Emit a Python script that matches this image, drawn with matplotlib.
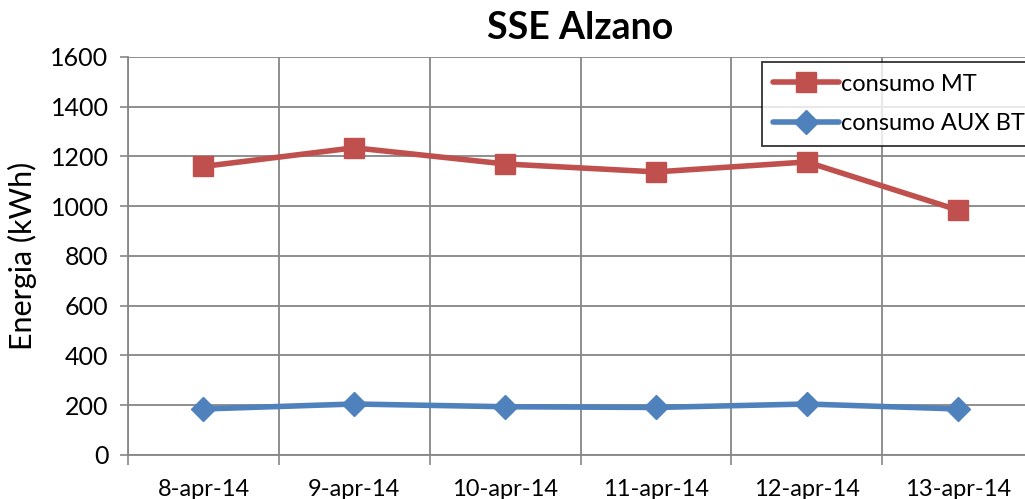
import matplotlib.pyplot as plt
import numpy as np

# data
dates = ['8-apr-14', '9-apr-14', '10-apr-14', '11-apr-14', '12-apr-14', '13-apr-14']
consumo_mt = [1160, 1235, 1170, 1138, 1178, 985]
consumo_aux_bt = [185, 205, 194, 191, 205, 185]

plt.rcParams['font.family'] = ['Lato', 'DejaVu Sans']

fig = plt.figure(figsize=(10.25, 4.99), dpi=100)
ax = fig.add_axes([0.1249, 0.0882, 0.883, 0.7976])

x = np.arange(len(dates))
ax.plot(x, consumo_mt, color='#C0504D', lw=4, marker='s', markersize=14,
        label='consumo MT', solid_capstyle='round')
ax.plot(x, consumo_aux_bt, color='#4F81BD', lw=4, marker='D', markersize=12,
        label='consumo AUX BT', solid_capstyle='round')

ax.set_xlim(-0.5, len(dates) - 0.5)
ax.set_ylim(0, 1600)
ax.set_yticks(np.arange(0, 1601, 200))

# category ticks in the middle, grid/tick marks on the boundaries
ax.set_xticks(x)
ax.set_xticklabels(dates, fontsize=17)
ax.set_xticks(np.arange(-0.5, len(dates)), minor=True)
ax.tick_params(axis='x', which='major', length=0, pad=17)
ax.tick_params(axis='x', which='minor', length=7, color='#868686', width=1.2)
ax.tick_params(axis='y', labelsize=18, length=6, color='#868686', width=1.2, pad=8)

ax.grid(True, axis='y', color='#868686', lw=1.3)
ax.grid(True, axis='x', which='minor', color='#868686', lw=1.3)
ax.set_axisbelow(True)

for side in ['top', 'right']:
    ax.spines[side].set_visible(False)
for side in ['left', 'bottom']:
    ax.spines[side].set_color('#868686')
    ax.spines[side].set_linewidth(1.3)

ax.set_ylabel('Energia (kWh)', fontsize=22, labelpad=10)
ax.set_title('SSE Alzano', fontsize=27, fontweight='bold', pad=13)

leg = ax.legend(loc='upper left', bbox_to_anchor=(0.7, 0.988), fontsize=17,
                frameon=True, fancybox=False, edgecolor='black',
                handlelength=2.8, handletextpad=0.05, borderpad=0.5,
                labelspacing=0.8, borderaxespad=0)
leg.get_frame().set_linewidth(1.3)

fig.savefig('out.png', dpi=100)
